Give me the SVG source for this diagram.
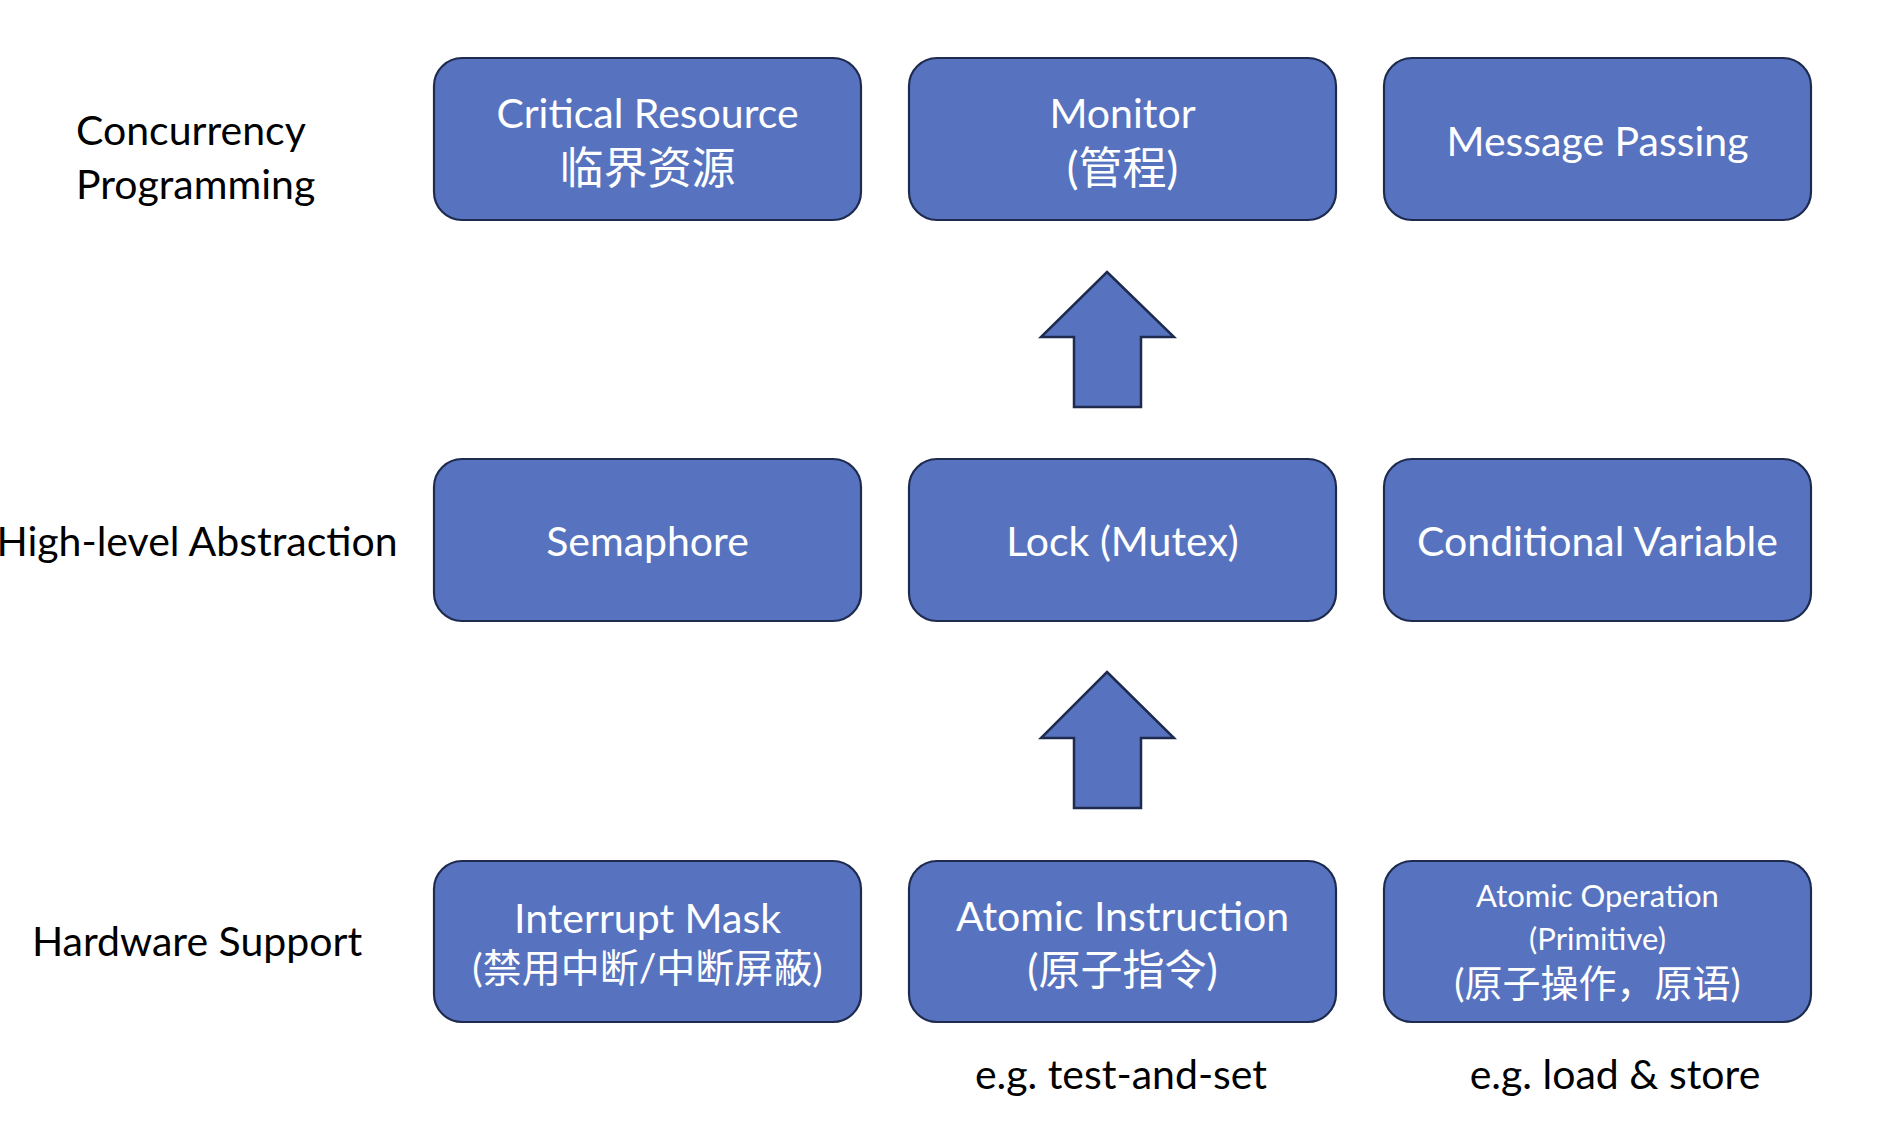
<svg xmlns="http://www.w3.org/2000/svg" width="1896" height="1124" viewBox="0 0 1896 1124">
<style>
.box{fill:#5773C0;stroke:#1E2B4F;stroke-width:2.2}
.arr{fill:#5773C0;stroke:#1E2B4F;stroke-width:2.5;stroke-linejoin:miter}
.t{font-family:Lato,"Noto Sans CJK SC",sans-serif;fill:#fff;text-anchor:middle;font-size:41px}
.cn{font-family:Lato,"Noto Sans CJK SC",sans-serif;fill:#fff;text-anchor:middle}
.lbl{font-family:Lato,"Noto Sans CJK SC",sans-serif;fill:#000;font-size:41px}
</style>
<rect width="1896" height="1124" fill="#fff"/>
<g id="labels">
<text class="lbl" x="76" y="145">Concurrency</text>
<text class="lbl" x="76" y="199">Programming</text>
<text class="lbl" x="197" y="556" text-anchor="middle">High-level Abstraction</text>
<text class="lbl" x="197" y="956" text-anchor="middle">Hardware Support</text>
<text class="lbl" x="1121" y="1089" text-anchor="middle">e.g. test-and-set</text>
<text class="lbl" x="1615" y="1089" text-anchor="middle">e.g. load &amp; store</text>
</g>
<g id="connectors">
<polygon class="arr" points="1107,272 1174,337 1141,337 1141,407 1074,407 1074,337 1041,337"/>
<polygon class="arr" points="1107,672 1174,738 1141,738 1141,808 1074,808 1074,738 1041,738"/>
</g>
<g id="critical-resource">
<rect class="box" x="434" y="58" width="427" height="162" rx="28"/>
<text class="t" x="647.5" y="128">Critical Resource</text>
<text class="cn" x="647.5" y="184" font-size="44">临界资源</text>
</g>
<g id="monitor">
<rect class="box" x="909" y="58" width="427" height="162" rx="28"/>
<text class="t" x="1122.5" y="128">Monitor</text>
<text class="cn" x="1122.5" y="184" font-size="44">(管程)</text>
</g>
<g id="message-passing">
<rect class="box" x="1384" y="58" width="427" height="162" rx="28"/>
<text class="t" x="1597.5" y="156">Message Passing</text>
</g>
<g id="semaphore">
<rect class="box" x="434" y="459" width="427" height="162" rx="28"/>
<text class="t" x="647.5" y="556">Semaphore</text>
</g>
<g id="lock">
<rect class="box" x="909" y="459" width="427" height="162" rx="28"/>
<text class="t" x="1122.5" y="556">Lock (Mutex)</text>
</g>
<g id="conditional-variable">
<rect class="box" x="1384" y="459" width="427" height="162" rx="28"/>
<text class="t" x="1597.5" y="556">Conditional Variable</text>
</g>
<g id="interrupt-mask">
<rect class="box" x="434" y="861" width="427" height="161" rx="28"/>
<text class="t" x="647.5" y="933">Interrupt Mask</text>
<text class="cn" x="647.5" y="982" font-size="39">(禁用中断/中断屏蔽)</text>
</g>
<g id="atomic-instruction">
<rect class="box" x="909" y="861" width="427" height="161" rx="28"/>
<text class="t" x="1122.5" y="931">Atomic Instruction</text>
<text class="cn" x="1122.5" y="985" font-size="42">(原子指令)</text>
</g>
<g id="atomic-operation">
<rect class="box" x="1384" y="861" width="427" height="161" rx="28"/>
<text class="cn" x="1597.5" y="907" font-size="31">Atomic Operation</text>
<text class="cn" x="1597.5" y="950" font-size="31">(Primitive)</text>
<text class="cn" x="1597.5" y="997" font-size="38">(原子操作，原语)</text>
</g>
</svg>
